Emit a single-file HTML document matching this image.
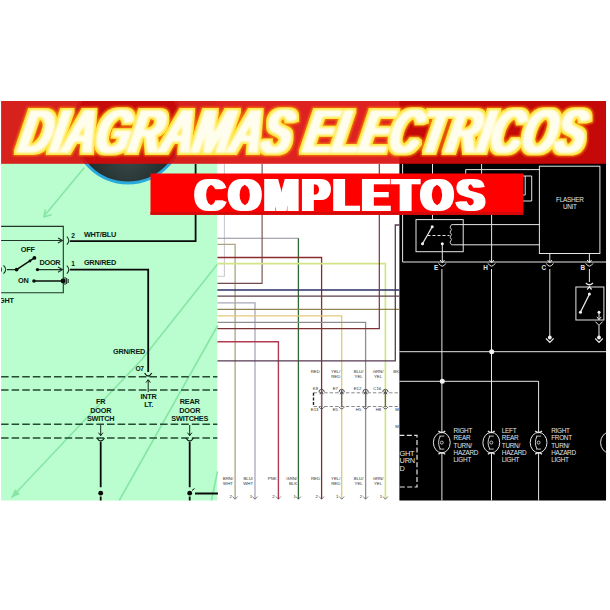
<!DOCTYPE html>
<html lang="es">
<head>
<meta charset="utf-8">
<title>Diagramas Electricos Completos</title>
<style>
html,body{margin:0;padding:0;background:#fff;}
body{width:610px;height:610px;overflow:hidden;position:relative;}
svg{position:absolute;left:0;top:0;display:block;}
text{font-family:"Liberation Sans",sans-serif;}
.lb{font-weight:bold;font-size:7.3px;letter-spacing:-0.22px;fill:#0a1a10;}
.wl{font-size:6.4px;letter-spacing:-0.28px;fill:#e4e4e4;}
.tn{font-size:4.3px;fill:#2c2c2c;}
</style>
</head>
<body>
<svg width="610" height="610" viewBox="0 0 610 610">
<defs>
<clipPath id="img"><rect x="1.1" y="101.1" width="604.95" height="399.5"/></clipPath>
<radialGradient id="ball" cx="0.5" cy="0.75" r="0.6">
<stop offset="0" stop-color="#3b4a48"/><stop offset="1" stop-color="#111c1c"/>
</radialGradient>
<filter id="glow" x="-5%" y="-30%" width="110%" height="160%">
<feGaussianBlur stdDeviation="1.6"/>
</filter>
<filter id="fat" x="-3%" y="-10%" width="106%" height="120%"><feMorphology operator="dilate" radius="3 0.4"/></filter>
<filter id="hdr" filterUnits="userSpaceOnUse" x="0" y="95" width="610" height="75" color-interpolation-filters="sRGB">
<feMorphology in="SourceAlpha" operator="dilate" radius="1.9 0.3" result="core"/>
<feMorphology in="core" operator="dilate" radius="2.7" result="o1"/>
<feGaussianBlur in="o1" stdDeviation="0.8" result="o1b"/>
<feFlood flood-color="#f47a08"/><feComposite operator="in" in2="o1b" result="orange"/>
<feMorphology in="core" operator="dilate" radius="1.9" result="y1"/>
<feGaussianBlur in="y1" stdDeviation="0.6" result="y1b"/>
<feFlood flood-color="#ffe63c"/><feComposite operator="in" in2="y1b" result="yellow"/>
<feGaussianBlur in="core" stdDeviation="0.95" result="cb"/>
<feFlood flood-color="#fffeee"/><feComposite operator="in" in2="cb" result="white"/>
<feMerge><feMergeNode in="orange"/><feMergeNode in="yellow"/><feMergeNode in="white"/></feMerge>
</filter>
</defs>
<rect width="610" height="610" fill="#fff"/>
<g clip-path="url(#img)">
<!--PANELS-->
<rect x="1" y="101" width="216.4" height="400" fill="#bafdcf"/>
<rect x="217.4" y="101" width="182" height="400" fill="#fff"/>
<rect x="399.4" y="101" width="207" height="400" fill="#000"/>
<!--GREEN-->
<g id="green">
<!-- faint diagonal lines -->
<g stroke="#86e7a4" stroke-width="1.6" fill="none" stroke-linecap="round">
<path d="M84 168 L45 215"/>
<path d="M44 217 l1.2 -7 M44 217 l7 -2.2"/>
<path d="M217 264.8 L141.4 360 L12 497"/>
<path d="M217.4 326 L119.5 500"/>
<path d="M217.4 472 L211.5 500"/>
</g>
<path d="M11 498 l9 -4 l-5 -5 z" fill="#86e7a4"/>
<!-- switch box -->
<g stroke="#1f3527" stroke-width="1.1" fill="none">
<path d="M0 226.4 H63.3 V292.8 H0"/>
<path d="M0 240.5 H62"/>
<path d="M58 237.9 L62.5 240.5 L58 243.1"/>
<path d="M39 269.6 H62"/>
<path d="M58 267 L62.5 269.6 L58 272.2"/>
<path d="M66.8 236.6 Q70.8 240.6 66.8 244.6"/>
<path d="M66.8 265.6 Q70.8 269.6 66.8 273.6"/>
<path d="M3.5 265.5 Q8 269.6 3.5 273.7 M0 266.5 Q3 269.6 0 272.7"/>
<path d="M7 269.6 H16"/>
<path d="M65 277 V285 M66.6 278 V284 M68.2 279 V283"/>
</g>
<g stroke="#0b0f0c" stroke-width="1.5" fill="none">
<path d="M16.6 269.6 L34.4 257.9"/>
<path d="M34 281 H63"/>
</g>
<g fill="#0b0f0c">
<circle cx="16.6" cy="269.6" r="1.9"/><circle cx="34.4" cy="257.9" r="1.9"/><circle cx="30" cy="261" r="1.4"/>
<circle cx="37.5" cy="269.6" r="1.7"/><circle cx="34" cy="281" r="1.8"/>
<circle cx="63" cy="281" r="2.4"/>
</g>
<!-- thick wires -->
<g stroke="#070a08" stroke-width="1.8" fill="none">
<path d="M70 241.1 H195.6 V164"/>
<path d="M70 269.7 H148.2 V372"/>
<path d="M100.7 442 V487.3 M100.7 496.6 V501"/>
<path d="M189.7 442 V487.3 M189.7 496.6 V501"/>
<path d="M195 493.5 H218" stroke-width="2.2"/>
</g>
<circle cx="100.7" cy="493.2" r="2.4" fill="#070a08"/>
<circle cx="189.7" cy="493.2" r="2.4" fill="#070a08"/>
<path d="M192 490.5 l2.5 -2" stroke="#070a08" stroke-width="1"/>
<!-- dashed separators -->
<g stroke="#244a33" stroke-width="1.5" stroke-dasharray="7.6 3" fill="none">
<path d="M1 376.7 H217.4"/><path d="M1 390 H217.4"/><path d="M1 424.3 H217.4"/><path d="M1 438 H217.4"/>
</g>
<!-- connectors -->
<g stroke="#16241b" stroke-width="1" fill="none">
<path d="M144.6 373 Q148.2 379 151.8 373" stroke-width="1.3"/>
<path d="M148.2 380 V392 M146 382.6 L148.2 379.6 L150.4 382.6"/>
<path d="M100.7 425 V435.5 M98.5 432.7 L100.7 435.7 L102.9 432.7"/>
<path d="M189.7 425 V435.5 M187.5 432.7 L189.7 435.7 L191.9 432.7"/>
<path d="M96.9 438 Q100.7 444 104.5 438" stroke-width="1.3"/>
<path d="M185.9 438 Q189.7 444 193.5 438" stroke-width="1.3"/>
</g>
<!-- labels -->
<g class="lb">
<text x="71.3" y="237.6" font-size="6.6">2</text>
<text x="83.9" y="237.2">WHT/BLU</text>
<text x="20.7" y="252.1">OFF</text>
<text x="39.4" y="265.3">DOOR</text>
<text x="71.3" y="265.6" font-size="6.6">1</text>
<text x="83.9" y="265.4">GRN/RED</text>
<text x="18" y="283.4">ON</text>
<text x="-1" y="303">GHT</text>
<text x="113" y="353.5">GRN/RED</text>
<text x="135.4" y="370.8" font-size="6.6">O7</text>
<text x="148.6" y="398.5" text-anchor="middle">INTR</text>
<text x="148.6" y="406.8" text-anchor="middle">LT.</text>
<text x="100.7" y="403.7" text-anchor="middle">FR</text>
<text x="100.7" y="412.5" text-anchor="middle">DOOR</text>
<text x="100.7" y="421.1" text-anchor="middle">SWITCH</text>
<text x="189.7" y="403.7" text-anchor="middle">REAR</text>
<text x="189.7" y="412.5" text-anchor="middle">DOOR</text>
<text x="189.7" y="421.1" text-anchor="middle">SWITCHES</text>
</g>
</g>
<!--WHITE-->
<g id="white">
<g fill="none" stroke-width="1.1">
<path d="M224.4 164 V276.3 H217.4" stroke="#c9c9cf"/>
<path d="M217.4 238.3 H298.4" stroke="#8f8f9b"/>
<path d="M298.4 238.3 V499" stroke="#2f6a34" stroke-width="1.3"/>
<path d="M217.4 244.3 H235.1 V499" stroke="#a9a681" stroke-width="1.3"/>
<path d="M262.1 164 V283.4 H217.4" stroke="#6f4a4a"/>
<path d="M217.4 257.5 H321.6 V499" stroke="#8c2a2e" stroke-width="1.3"/>
<path d="M217.4 263.7 H385.4 V499" stroke="#d2e486" stroke-width="1.7"/>
<path d="M217.4 290 H399.4" stroke="#2b2f63" stroke-width="1.3"/>
<path d="M217.4 296.2 H399.4" stroke="#5b4048" stroke-width="1.2"/>
<path d="M217.4 302.8 H255 V499" stroke="#a9a7b8" stroke-width="1.3"/>
<path d="M217.4 309.4 H399.4" stroke="#8f8450"/>
<path d="M217.4 315.8 H341.7 V499" stroke="#e3c877" stroke-width="1.3"/>
<path d="M217.4 322.4 H365.6 V499" stroke="#8e8e92" stroke-width="1.3"/>
<path d="M379.3 164 V328.6 H217.4" stroke="#7d3336" stroke-width="1.2"/>
<path d="M217.4 341.7 H278.4 V499" stroke="#b23a50" stroke-width="1.4"/>
<path d="M399.4 225 H395.3 V360.9 H217.4" stroke="#553a52" stroke-width="1.3"/>
</g>
<!-- connector block -->
<g fill="none" stroke="#55555a" stroke-width="0.9">
<path d="M313.5 392.8 H399.4 M313.5 406.5 H399.4" stroke="#7a7a80" stroke-dasharray="3.4 2"/>
<path d="M313.5 392.8 V406.5" stroke="#222" stroke-width="1.4" stroke-dasharray="3 1.6"/>
<path d="M321.6 390 V407 M341.7 390 V407 M365.6 390 V407 M385.4 390 V407" stroke="#66666c" stroke-width="1.3"/>
<path d="M318.9 392.2 A2.7 2.9 0 0 1 324.3 392.2 M320.0 394.2 L321.6 391.6 L323.2 394.2 M339.0 392.2 A2.7 2.9 0 0 1 344.4 392.2 M340.1 394.2 L341.7 391.6 L343.3 394.2 M362.9 392.2 A2.7 2.9 0 0 1 368.3 392.2 M364.0 394.2 L365.6 391.6 L367.2 394.2 M382.7 392.2 A2.7 2.9 0 0 1 388.1 392.2 M383.8 394.2 L385.4 391.6 L387.0 394.2" stroke="#3c3c40" stroke-width="0.9"/>
<path d="M318.8 406.8 Q321.6 411 324.4 406.8 M338.9 406.8 Q341.7 411 344.5 406.8 M362.8 406.8 Q365.6 411 368.4 406.8 M382.6 406.8 Q385.4 411 388.2 406.8"/>
<path d="M232.6 496.5 l2.5 2.8 l2.5 -2.8 M252.5 496.5 l2.5 2.8 l2.5 -2.8 M275.9 496.5 l2.5 2.8 l2.5 -2.8 M295.9 496.5 l2.5 2.8 l2.5 -2.8 M319.1 496.5 l2.5 2.8 l2.5 -2.8 M339.2 496.5 l2.5 2.8 l2.5 -2.8 M363.1 496.5 l2.5 2.8 l2.5 -2.8 M382.9 496.5 l2.5 2.8 l2.5 -2.8" stroke-width="0.7"/>
</g>
<g class="tn" text-anchor="middle">
<text x="315.3" y="373.2">RED</text>
<text x="335.7" y="373.2">YEL/</text><text x="335.7" y="378.3">RED</text>
<text x="358.6" y="373.2">BLU/</text><text x="358.6" y="378.3">YEL</text>
<text x="378" y="373.2">GRN/</text><text x="378" y="378.3">YEL</text>
<text x="396.2" y="373.2">BK</text>
<text x="315.4" y="390.4">K8</text><text x="335.3" y="390.4">E7</text><text x="357.5" y="390.4">E12</text><text x="377.3" y="390.4">C16</text>
<text x="314.6" y="411.1">E13</text><text x="335.3" y="411.1">E5</text><text x="358.6" y="411.1">H5</text><text x="378.4" y="411.1">H8</text><text x="397" y="411.1">M</text>
<text x="397" y="427.5">M</text>
<text x="228" y="479.8">BRN/</text><text x="228" y="484.7">WHT</text>
<text x="248.2" y="479.8">BLU/</text><text x="248.2" y="484.7">WHT</text>
<text x="272.2" y="479.8">PNK</text>
<text x="291.7" y="479.8">GRN/</text><text x="293" y="484.7">BLK</text>
<text x="315.5" y="479.8">RED</text>
<text x="335.7" y="479.8">YEL/</text><text x="335.7" y="484.7">RED</text>
<text x="358.6" y="479.8">BLU/</text><text x="358.6" y="484.7">YEL</text>
<text x="378" y="479.8">GRN/</text><text x="378" y="484.7">YEL</text>
<text x="230.7" y="498.4">2</text><text x="251" y="498.4">1</text><text x="273.5" y="498.4">2</text><text x="294.6" y="498.4">1</text>
<text x="316.6" y="498.4">2</text><text x="337.2" y="498.4">1</text><text x="361" y="498.4">2</text><text x="381" y="498.4">1</text>
</g>
</g>
<!--BLACK-->
<g id="black">
<g fill="none" stroke="#e6e6e6" stroke-width="1">
<path d="M402.6 164 V262 H606"/>
<path d="M432.5 164 V219.6"/>
<path d="M481.6 164 V175 M491.6 214 V262.5"/>
<path d="M465.7 213 V169.6 H539.7"/>
<path d="M472 176 H531.7 V201 H520"/>
<path d="M520 195 H525.2 V176"/>
<rect x="539.4" y="166.2" width="60.5" height="87.3"/>
<rect x="416" y="219.6" width="47.2" height="32.1"/>
<path d="M455 224.6 H539.7 M455 244.8 H539.7"/>
<path d="M432.2 226.8 L422.5 243.8" stroke-width="1.3"/>
<path d="M427.5 235.5 H449.5" stroke-dasharray="3 2"/>
<path d="M455 224.6 H451.5 q-3 2.5 0 5 q-3 2.5 0 5 q-3 2.5 0 5 q-3 2.5 0 5.2 H455" stroke-width="0.9"/>
<path d="M442.3 243.8 V262.5"/>
<path d="M549.8 253.4 V262 M589.4 253.4 V262"/>
<path d="M440.1 260.0 L442.3 262.8 L444.5 260.0"/><path d="M438.7 263.4 Q442.3 269.0 445.9 263.4"/><path d="M489.4 260.0 L491.6 262.8 L493.8 260.0"/><path d="M488.0 263.4 Q491.6 269.0 495.2 263.4"/><path d="M547.6 260.0 L549.8 262.8 L552.0 260.0"/><path d="M546.2 263.4 Q549.8 269.0 553.4 263.4"/><path d="M587.2 260.0 L589.4 262.8 L591.6 260.0"/><path d="M585.8 263.4 Q589.4 269.0 593.0 263.4"/>
<path d="M441.9 269 V501"/>
<path d="M491.5 269 V501"/>
<path d="M549.8 269 V336"/>
<path d="M589.4 269 V282"/>
<path d="M585.8 283 Q589.4 286.5 593 283 M587.2 289.5 L589.4 286.8 L591.6 289.5" stroke-width="1.2"/>
<rect x="575.9" y="287" width="28" height="33"/>
<path d="M589.4 294.2 L580.4 312.2" stroke-width="1.3"/>
<path d="M599 312.2 V319.6 M596.8 316.8 L599 319.6 L601.2 316.8"/>
<path d="M595.4 321.6 L599 325.4 L602.6 321.6 M599 325.4 V336"/>
<path d="M546 338.5 L549.8 342.3 L553.6 338.5 M595.2 338.5 L599 342.3 L602.8 338.5" stroke-width="1.2"/>
<path d="M399.4 351.7 H606"/>
<path d="M399.4 381.3 H538.6 V501"/>
<path d="M399.4 435.4 H417 V487 H399.4" stroke-dasharray="5 2.4" stroke-width="1.2"/>
<ellipse cx="441.8" cy="442.6" rx="8.4" ry="10.2" fill="#000"/><path d="M438.4 431.0 Q441.8 434.0 445.2 431.0 M438.4 454.2 Q441.8 451.2 445.2 454.2" stroke-width="1.3"/><path d="M440.3 436.1 Q436.8 442.6 440.3 449.1" stroke-width="0.9"/><path d="M439.3 436.1 H444.3 M439.3 449.1 H444.3" stroke-width="0.8"/><circle cx="441.8" cy="442.6" r="1.5" stroke-width="0.8"/><ellipse cx="491.3" cy="442.6" rx="8.4" ry="10.2" fill="#000"/><path d="M487.9 431.0 Q491.3 434.0 494.7 431.0 M487.9 454.2 Q491.3 451.2 494.7 454.2" stroke-width="1.3"/><path d="M489.8 436.1 Q486.3 442.6 489.8 449.1" stroke-width="0.9"/><path d="M488.8 436.1 H493.8 M488.8 449.1 H493.8" stroke-width="0.8"/><circle cx="491.3" cy="442.6" r="1.5" stroke-width="0.8"/><ellipse cx="538.6" cy="442.6" rx="8.4" ry="10.2" fill="#000"/><path d="M535.2 431.0 Q538.6 434.0 542.0 431.0 M535.2 454.2 Q538.6 451.2 542.0 454.2" stroke-width="1.3"/><path d="M537.1 436.1 Q533.6 442.6 537.1 449.1" stroke-width="0.9"/><path d="M536.1 436.1 H541.1 M536.1 449.1 H541.1" stroke-width="0.8"/><circle cx="538.6" cy="442.6" r="1.5" stroke-width="0.8"/>
<ellipse cx="609" cy="442.6" rx="8.4" ry="10.2"/>
</g>
<g fill="#f2f2f2">
<circle cx="432.2" cy="226.8" r="1.5"/><circle cx="422.5" cy="243.8" r="1.5"/><circle cx="442.3" cy="243.8" r="1.5"/>
<circle cx="589.4" cy="294" r="1.5"/><circle cx="580.4" cy="312.3" r="1.5"/>
<circle cx="491.7" cy="351.7" r="2.5"/><circle cx="442.3" cy="381.3" r="2.5"/>
<circle cx="549.8" cy="337.5" r="1.9"/><circle cx="599" cy="337.5" r="1.9"/><circle cx="599" cy="312.2" r="1.5"/>
</g>
<g class="wl">
<text x="569.8" y="201.8" text-anchor="middle">FLASHER</text>
<text x="569.8" y="209.4" text-anchor="middle">UNIT</text>
<g font-weight="bold"><text x="434" y="270.2">E</text><text x="483.3" y="270.2">H</text><text x="541.6" y="270.2">C</text><text x="580.6" y="270.2">B</text></g>
<text x="453.6" y="433.2">RIGHT</text><text x="453.6" y="440.3">REAR</text><text x="453.6" y="447.6">TURN/</text><text x="453.6" y="455">HAZARD</text><text x="453.6" y="461.9">LIGHT</text>
<text x="501.8" y="433.2">LEFT</text><text x="501.8" y="440.3">REAR</text><text x="501.8" y="447.6">TURN/</text><text x="501.8" y="455">HAZARD</text><text x="501.8" y="461.9">LIGHT</text>
<text x="551.2" y="433.2">RIGHT</text><text x="551.2" y="440.3">FRONT</text><text x="551.2" y="447.6">TURN/</text><text x="551.2" y="455">HAZARD</text><text x="551.2" y="461.9">LIGHT</text>
<text x="399.6" y="456" font-size="7.4">GHT</text><text x="399.6" y="463.2" font-size="7.4">URN</text><text x="399.6" y="470.5" font-size="7.4">D</text>
</g>
</g>
<!--BALL-->
<circle cx="128" cy="128.5" r="54.5" fill="url(#ball)" stroke="#2aa9dc" stroke-width="3"/>
<!--HEADER-->
<rect x="1" y="101" width="605" height="62.8" fill="#da0909" opacity="0.9"/>
<g filter="url(#hdr)" font-weight="bold" font-style="italic" font-size="58" fill="#fff">
<text transform="translate(17.1,152.7) skewX(-11.3) scale(0.760,1.08)" x="0" y="0">DIAGRAMAS</text>
<text transform="translate(302.1,152.7) skewX(-11.3) scale(0.750,1.08)" x="0" y="0">ELECTRICOS</text>
</g>
<!--COMPLETOS-->
<rect x="150.5" y="173.5" width="372.8" height="41.3" fill="#fe0000"/>
<rect x="150.5" y="212" width="372.8" height="2.8" fill="#d40a0a"/>
<text transform="translate(195.6,210.5) scale(0.955,1.075)" x="0" y="0" font-weight="bold" font-size="42.5" letter-spacing="4.2" fill="#fff" filter="url(#fat)">COMPLETOS</text>
</g>
</svg>
</body>
</html>
